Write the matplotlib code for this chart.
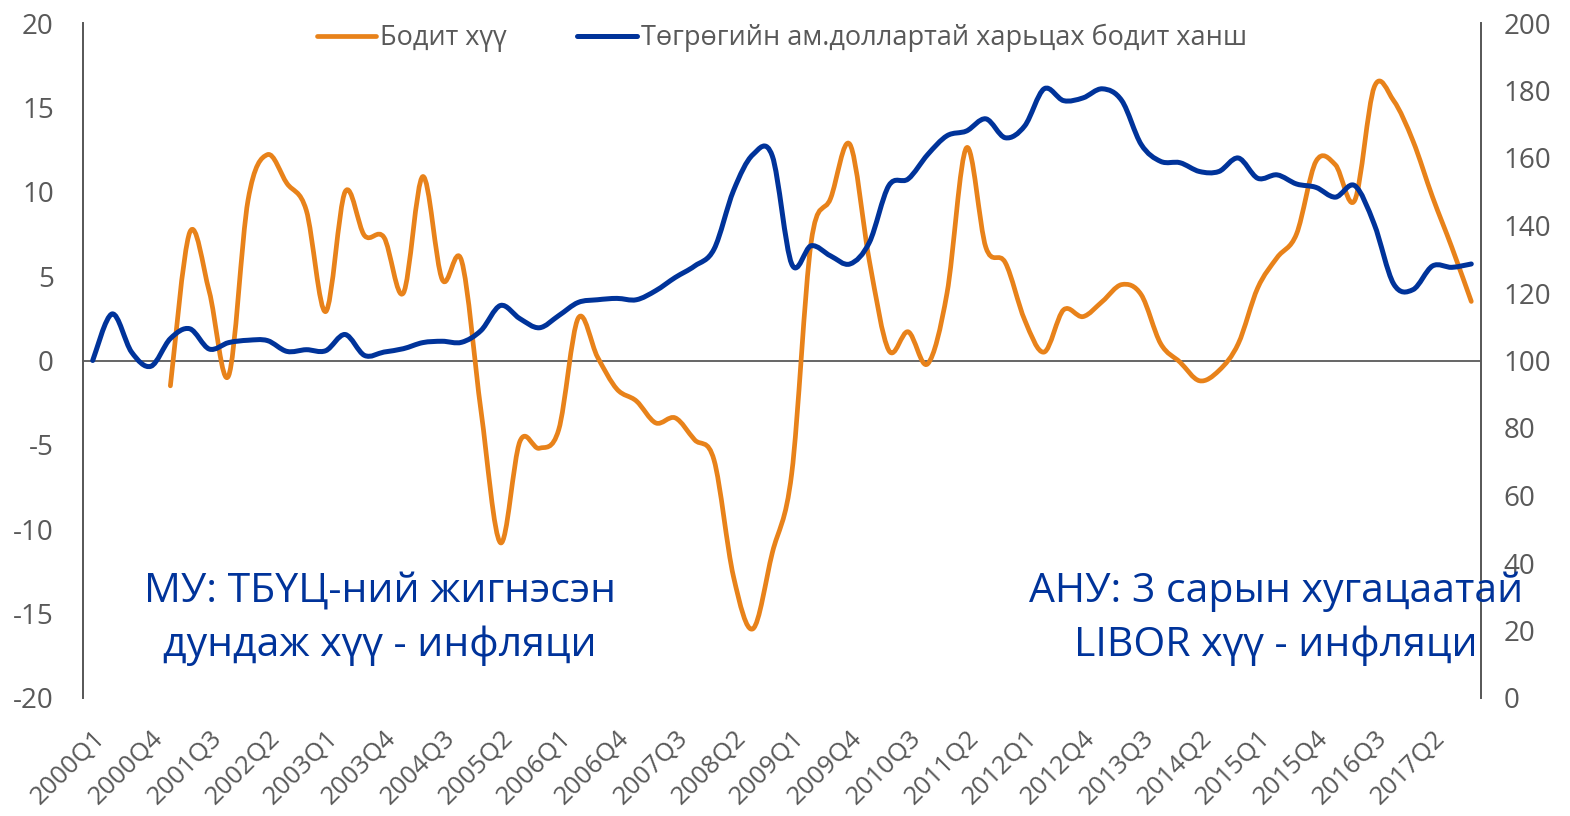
import numpy as np
import matplotlib
matplotlib.use("Agg")
import matplotlib.pyplot as plt
from matplotlib.path import Path
from matplotlib.patches import PathPatch

# Quarterly categories 2000Q1 - 2017Q4
quarters = [f"{y}Q{q}" for y in range(2000, 2018) for q in range(1, 5)]

# Real interest rate (left axis), starts at 2001Q1
real_rate = [np.nan, np.nan, np.nan, np.nan,
             -1.5, 7.6, 4.1, -0.9, 9.5, 12.2, 10.5, 8.9, 2.9, 10.0,
             7.4, 7.3, 4.0, 10.9, 4.8, 5.9, -3.0, -10.8, -4.8, -5.2,
             -4.1, 2.5, 0.2, -1.7, -2.4, -3.7, -3.4, -4.7, -5.9, -12.8,
             -15.9, -11.4, -6.7, 7.0, 9.6, 12.8, 5.9, 0.6, 1.7, -0.2,
             4.0, 12.6, 6.7, 5.8, 2.4, 0.5, 3.0, 2.6, 3.5, 4.5,
             3.9, 1.0, -0.1, -1.2, -0.6, 1.0, 4.3, 6.1, 7.5, 11.8,
             11.6, 9.5, 16.2, 15.4, 13.0, 9.7, 6.7, 3.5]

# Real exchange rate of MNT vs USD (right axis)
real_fx = [100.0, 113.8, 102.5, 98.3, 106.5, 109.4, 103.4, 105.3, 106.0,
           105.9, 102.7, 103.2, 102.9, 107.7, 101.5, 102.5, 103.5, 105.3,
           105.7, 105.4, 108.9, 116.3, 112.4, 109.7, 113.3, 117.2, 118.0,
           118.4, 118.0, 120.7, 124.6, 128.0, 133.0, 150.3, 161.0, 160.6,
           128.6, 134.0, 131.0, 128.6, 135.0, 151.8, 153.8, 161.0, 166.6,
           168.0, 171.6, 166.0, 169.5, 180.5, 177.0, 177.8, 180.5, 177.0,
           164.0, 159.0, 158.6, 156.0, 156.0, 160.0, 154.0, 155.0, 152.3,
           151.3, 148.4, 151.8, 140.4, 122.7, 121.0, 128.0, 127.6, 128.6]

label_step = 3
orange = "#E8821A"
blue = "#00339A"
grey = "#595959"

plt.rcParams["font.family"] = ["Open Sans", "DejaVu Sans"]
plt.rcParams["axes.unicode_minus"] = False


def smooth_path(x, y):
    # Excel-style smoothed line: cubic Bezier through the data points
    x = np.asarray(x, float)
    y = np.asarray(y, float)
    ok = ~np.isnan(y)
    x, y = x[ok], y[ok]
    n = len(x)
    verts = [(x[0], y[0])]
    codes = [Path.MOVETO]
    for i in range(n - 1):
        xm, ym = (x[i - 1], y[i - 1]) if i > 0 else (x[i], y[i])
        xp, yp = (x[i + 2], y[i + 2]) if i + 2 < n else (x[i + 1], y[i + 1])
        c1 = (x[i] + (x[i + 1] - xm) / 6, y[i] + (y[i + 1] - ym) / 6)
        c2 = (x[i + 1] - (xp - x[i]) / 6, y[i + 1] - (yp - y[i]) / 6)
        verts += [c1, c2, (x[i + 1], y[i + 1])]
        codes += [Path.CURVE4] * 3
    return Path(verts, codes)


fig = plt.figure(figsize=(15.7, 8.16), dpi=100)
ax = fig.add_axes([83 / 1570, 1 - 698 / 816, (1481 - 83) / 1570, (698 - 23) / 816])
ax2 = ax.twinx()

xs = np.arange(len(quarters))
ax.add_patch(PathPatch(smooth_path(xs, real_rate), fill=False, edgecolor=orange,
                       lw=3.4, capstyle="round", joinstyle="round", zorder=3))
ax2.add_patch(PathPatch(smooth_path(xs, real_fx), fill=False, edgecolor=blue,
                        lw=3.6, capstyle="round", joinstyle="round", zorder=3))

ax.set_xlim(-0.5, len(quarters) - 0.5)
ax.set_ylim(-20, 20)
ax2.set_ylim(0, 200)
ax.set_yticks(np.arange(-20, 21, 5))
ax2.set_yticks(np.arange(0, 201, 20))
ax.set_xticks(xs[::label_step])
ax.set_xticklabels(quarters[::label_step], rotation=45, ha="right", va="top",
                   rotation_mode="anchor")
ax.axhline(0, color=grey, lw=1.3, zorder=2)

for a in (ax, ax2):
    for s in ("top", "bottom"):
        a.spines[s].set_visible(False)
    a.spines["left"].set_color(grey)
    a.spines["right"].set_color(grey)
    a.spines["left"].set_linewidth(1.3)
    a.spines["right"].set_linewidth(1.3)
ax.tick_params(axis="y", length=0, pad=21, labelsize=20, labelcolor=grey)
ax2.tick_params(axis="y", length=0, pad=16, labelsize=20, labelcolor=grey)
ax.tick_params(axis="x", length=0, pad=20, labelsize=18.5, labelcolor=grey)

# legend stand-ins
h1, = ax.plot([], [], color=orange, lw=3.4, solid_capstyle="round", label="Бодит хүү")
h2, = ax.plot([], [], color=blue, lw=3.6, solid_capstyle="round",
              label="Төгрөгийн ам.доллартай харьцах бодит ханш")
leg = ax.legend(handles=[h1, h2], loc="upper center", bbox_to_anchor=(0.5, 1.035),
                ncol=2, frameon=False, fontsize=19.5, handlelength=2.2,
                handletextpad=0.15, columnspacing=2.6)
for t in leg.get_texts():
    t.set_color(grey)

fig.text(380 / 1570, 1 - 619 / 816, "МУ: ТБҮЦ-ний жигнэсэн\nдундаж хүү - инфляци",
         fontsize=29.5, color=blue, ha="center", va="center", linespacing=1.45, zorder=5)
fig.text(1276 / 1570, 1 - 619 / 816, "АНУ: 3 сарын хугацаатай\nLIBOR хүү - инфляци",
         fontsize=29.5, color=blue, ha="center", va="center", linespacing=1.45, zorder=5)

fig.savefig("out.png", dpi=100)
